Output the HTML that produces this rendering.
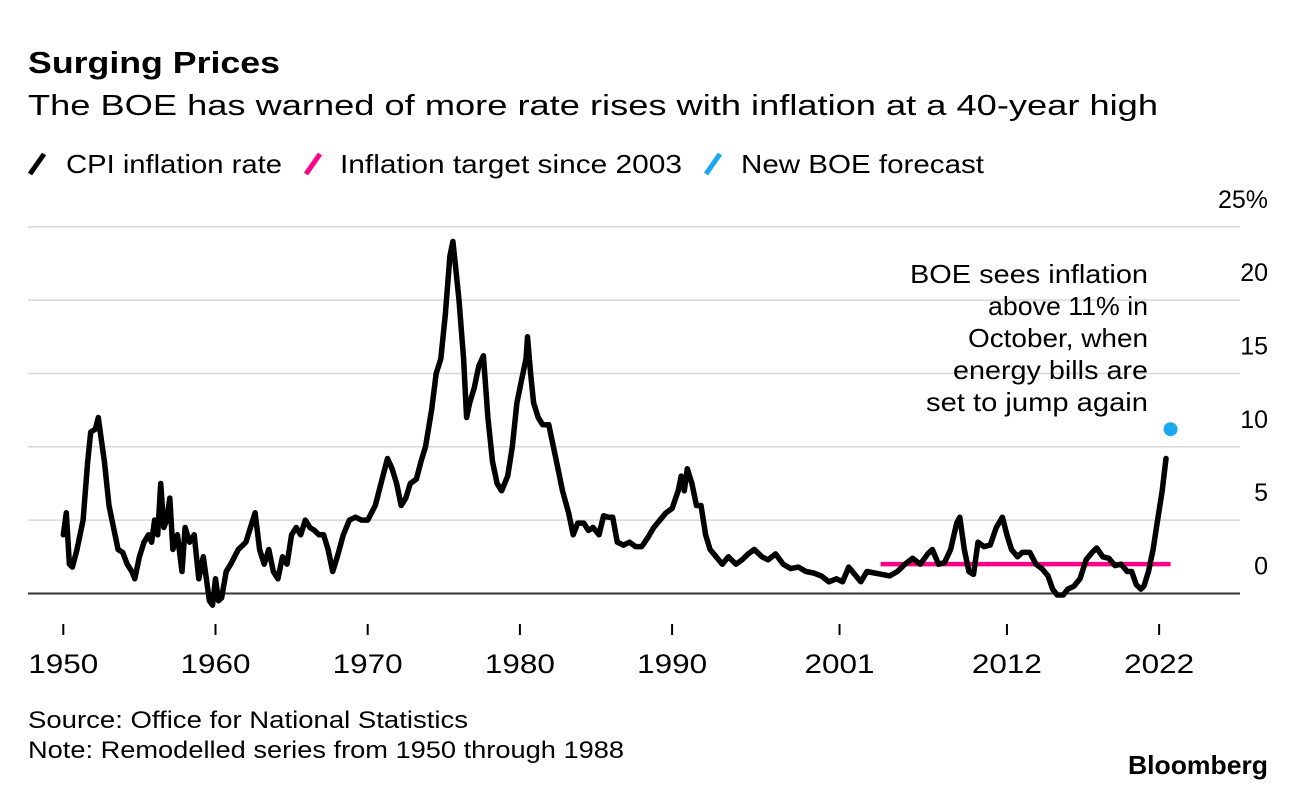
<!DOCTYPE html>
<html><head><meta charset="utf-8"><style>
body{margin:0;background:#fff;width:1296px;height:790px;overflow:hidden;font-family:"Liberation Sans",sans-serif;}
svg{display:block}
</style></head><body>
<svg width="1296" height="790">
<text x="28" y="73" font-size="31" font-weight="bold" fill="#000" textLength="252" lengthAdjust="spacingAndGlyphs">Surging Prices</text>
<text x="28" y="115" font-size="29" fill="#000" textLength="1130" lengthAdjust="spacingAndGlyphs">The BOE has warned of more rate rises with inflation at a 40-year high</text>
<g font-size="26">
<g><line x1="30" y1="174" x2="44" y2="154" stroke="#000" stroke-width="5"/><text x="66" y="173" textLength="216" lengthAdjust="spacingAndGlyphs">CPI inflation rate</text></g>
<g><line x1="306" y1="174" x2="320" y2="154" stroke="#ff0088" stroke-width="5"/><text x="340" y="173" textLength="342" lengthAdjust="spacingAndGlyphs">Inflation target since 2003</text></g>
<g><line x1="706" y1="174" x2="720" y2="154" stroke="#1aa8f0" stroke-width="5"/><text x="741" y="173" textLength="243" lengthAdjust="spacingAndGlyphs">New BOE forecast</text></g>
</g>
<g id="grid"></g>
<g id="marks"></g>
<g id="xaxis"></g>
<g font-size="26" text-anchor="end">
<text x="1148" y="283" textLength="238" lengthAdjust="spacingAndGlyphs">BOE sees inflation</text>
<text x="1148" y="315" textLength="160" lengthAdjust="spacingAndGlyphs">above 11% in</text>
<text x="1148" y="347" textLength="180" lengthAdjust="spacingAndGlyphs">October, when</text>
<text x="1148" y="379" textLength="195" lengthAdjust="spacingAndGlyphs">energy bills are</text>
<text x="1148" y="411" textLength="222" lengthAdjust="spacingAndGlyphs">set to jump again</text>
</g>
<text x="28" y="728" font-size="24" textLength="440" lengthAdjust="spacingAndGlyphs">Source: Office for National Statistics</text>
<text x="28" y="758" font-size="24" textLength="596" lengthAdjust="spacingAndGlyphs">Note: Remodelled series from 1950 through 1988</text>
<text x="1268" y="774" font-size="26" font-weight="bold" text-anchor="end" textLength="140" lengthAdjust="spacingAndGlyphs">Bloomberg</text>
</svg>
<script>
const yTicks=[0,5,10,15,20,25];
const yTickLabels=["0","5","10","15","20","25%"];
const xTicks=[1950,1960,1970,1980,1990,2001,2012,2022];
const years=[1950.0,1950.2,1950.4,1950.6,1950.9,1951.3,1951.6,1951.8,1952.1,1952.3,1952.5,1952.7,1953.0,1953.3,1953.6,1953.9,1954.2,1954.5,1954.7,1955.0,1955.3,1955.6,1955.8,1956.0,1956.2,1956.4,1956.6,1956.8,1957.0,1957.2,1957.5,1957.8,1958.0,1958.3,1958.6,1958.9,1959.2,1959.6,1959.8,1960.0,1960.2,1960.4,1960.7,1961.0,1961.5,1962.0,1962.3,1962.6,1962.9,1963.2,1963.5,1963.8,1964.1,1964.4,1964.7,1965.0,1965.3,1965.6,1965.9,1966.2,1966.5,1966.8,1967.1,1967.4,1967.7,1968.0,1968.4,1968.8,1969.2,1969.6,1970.0,1970.5,1971.0,1971.3,1971.6,1971.9,1972.2,1972.5,1972.8,1973.2,1973.5,1973.8,1974.2,1974.5,1974.8,1975.1,1975.4,1975.6,1975.8,1976.0,1976.3,1976.5,1976.7,1977.0,1977.3,1977.6,1977.9,1978.2,1978.5,1978.8,1979.2,1979.5,1979.8,1980.1,1980.4,1980.5,1980.7,1980.9,1981.2,1981.5,1981.9,1982.2,1982.5,1982.8,1983.2,1983.5,1983.8,1984.2,1984.5,1984.8,1985.2,1985.5,1985.8,1986.1,1986.4,1986.8,1987.2,1987.6,1988.0,1988.4,1988.8,1989.2,1989.6,1990.0,1990.4,1990.6,1990.8,1991.0,1991.3,1991.6,1991.9,1992.2,1992.5,1992.9,1993.3,1993.7,1994.2,1994.6,1995.0,1995.4,1995.9,1996.3,1996.8,1997.3,1997.8,1998.3,1998.8,1999.3,1999.8,2000.3,2000.8,2001.2,2001.6,2002.0,2002.4,2002.8,2003.3,2003.8,2004.3,2004.8,2005.3,2005.8,2006.3,2006.8,2007.1,2007.5,2007.9,2008.3,2008.7,2008.9,2009.2,2009.5,2009.8,2010.1,2010.5,2010.9,2011.3,2011.7,2012.0,2012.3,2012.7,2013.0,2013.5,2013.9,2014.3,2014.7,2015.0,2015.3,2015.7,2016.0,2016.4,2016.8,2017.2,2017.6,2017.9,2018.3,2018.7,2019.1,2019.5,2019.9,2020.2,2020.5,2020.8,2021.0,2021.3,2021.6,2021.9,2022.2,2022.45];
const cpi=[4,5.5,2,1.8,3,5,9,11,11.2,12,10.5,9,6,4.5,3,2.8,2,1.5,1,2.5,3.5,4,3.5,5,4,7.5,4.5,5,6.5,3,4,1.5,4.5,3.5,4,1,2.5,-0.5,-0.8,1,-0.5,-0.3,1.5,2,3,3.5,4.5,5.5,3,2,3,1.5,1,2.5,2,4,4.5,4,5,4.5,4.3,4,4,3,1.5,2.5,4,5,5.2,5,5,6,8,9.2,8.5,7.5,6,6.5,7.5,7.8,9,10,12.5,15,16,19,23,24,22,20,16,12,13,14,15.5,16.2,12,9,7.5,7,8,10,13,14.5,16,17.5,15,13,12,11.5,11.5,10,8.5,7,5.5,4,4.8,4.8,4.3,4.5,4,5.3,5.2,5.2,3.5,3.3,3.5,3.2,3.2,3.8,4.5,5,5.5,5.8,7,8,7,8.5,7.5,6,6,4,3,2.5,2,2.5,2,2.3,2.7,3,2.5,2.3,2.7,2,1.7,1.8,1.5,1.4,1.2,0.8,1,0.8,1.8,1.3,0.8,1.5,1.4,1.3,1.2,1.5,2,2.4,2,2.7,3,2,2.1,3,4.8,5.2,3,1.5,1.3,3.5,3.2,3.3,4.5,5.2,4,3,2.5,2.8,2.8,2,1.7,1.2,0.3,-0.1,-0.1,0.3,0.5,1,2.3,2.8,3.1,2.5,2.4,1.9,2,1.5,1.5,0.6,0.3,0.5,1.5,3,5,7,9.2];
const targetYears=[2003.7,2022.75];
const targetValue=2;
const forecastYear=2022.75;
const forecastValue=11.2;
const NS='http://www.w3.org/2000/svg';
const X=y=>63.3+(y-1950)*15.22;
const Y=v=>593.5-v*14.67;
function mk(tag,attrs,parent){const e=document.createElementNS(NS,tag);for(const k in attrs)e.setAttribute(k,attrs[k]);parent.appendChild(e);return e;}
const grid=document.getElementById('grid'),marks=document.getElementById('marks'),xa=document.getElementById('xaxis');
yTicks.forEach((t,i)=>{
 const l=mk('line',{x1:28,x2:1240,y1:Y(t),y2:Y(t),stroke:t===0?'#333':'#d6d6d6','stroke-width':t===0?2:1.5},grid);
 
 
 const tx=mk('text',{x:1268,y:Y(t)-19,'font-size':25,'text-anchor':'end'},grid);
 tx.textContent=yTickLabels[i];
 
 
});
xTicks.forEach(t=>{
 const l=mk('line',{x1:X(t),x2:X(t),y1:624,y2:635,stroke:'#000','stroke-width':2},xa);
 
 
 const tx=mk('text',{x:X(t),y:673,'font-size':27,'text-anchor':'middle',textLength:70,lengthAdjust:'spacingAndGlyphs'},xa);
 tx.textContent=String(t);
 
 
});
const tl=mk('line',{x1:X(targetYears[0]),x2:X(targetYears[1]),y1:Y(targetValue),y2:Y(targetValue),stroke:'#ff0088','stroke-width':4.5},marks);


const pts=years.map((y,i)=>X(y).toFixed(1)+','+Y(cpi[i]).toFixed(1)).join(' ');
const pl=mk('polyline',{points:pts,fill:'none',stroke:'#000','stroke-width':5.5,'stroke-linejoin':'round','stroke-linecap':'round'},marks);


const dot=mk('circle',{cx:X(forecastYear),cy:Y(forecastValue),r:7,fill:'#1aa8f0'},marks);


</script>
</body></html>
